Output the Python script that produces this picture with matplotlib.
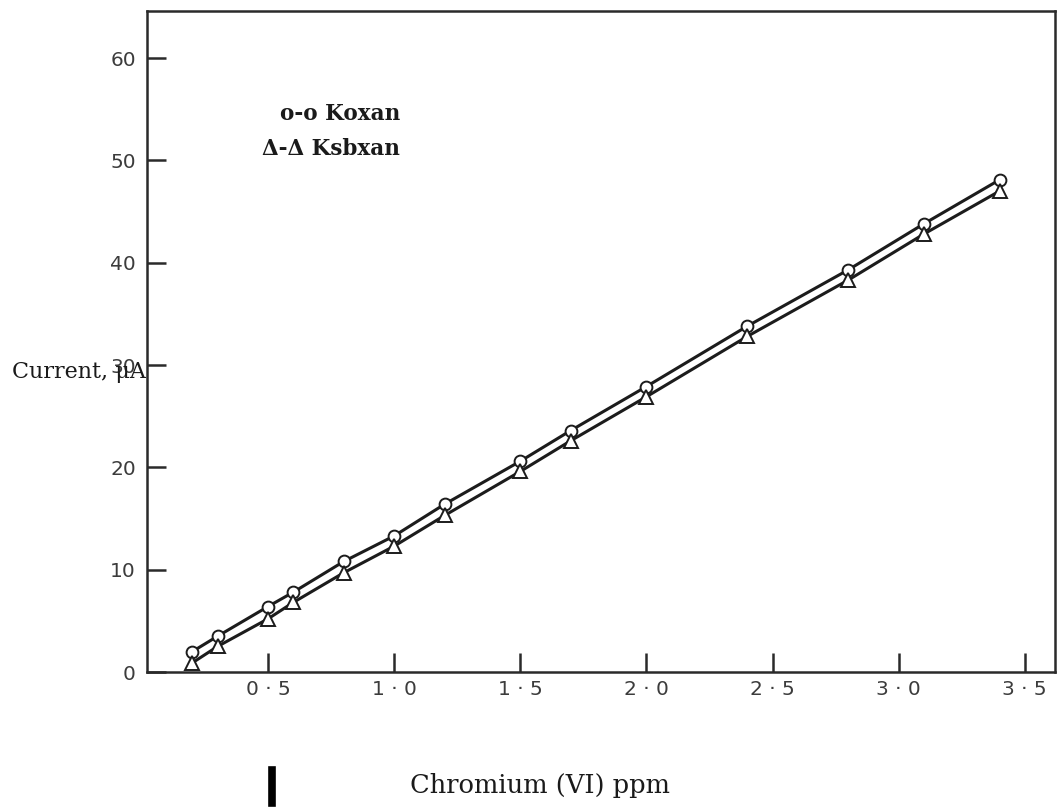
import matplotlib

matplotlib.use("Agg")
import matplotlib.pyplot as plt
from matplotlib.lines import Line2D

# Chromium (VI) concentration, ppm
conc = [0.2, 0.3, 0.5, 0.6, 0.8, 1.0, 1.2, 1.5, 1.7, 2.0, 2.4, 2.8, 3.1, 3.4]

# current readings, uA
koxan = [2.0, 3.5, 6.4, 7.8, 10.8, 13.3, 16.4, 20.6, 23.6, 27.9, 33.8, 39.3, 43.8, 48.1]
ksbxan = [0.9, 2.5, 5.2, 6.8, 9.7, 12.3, 15.3, 19.6, 22.6, 26.9, 32.8, 38.3, 42.8, 47.0]

x_ticks = [0.5, 1.0, 1.5, 2.0, 2.5, 3.0, 3.5]
x_tick_labels = ["0 · 5", "1 · 0", "1 · 5", "2 · 0", "2 · 5", "3 · 0", "3 · 5"]
y_ticks = [0, 10, 20, 30, 40, 50, 60]

W, H = 1059, 807
fig = plt.figure(figsize=(W / 100, H / 100), dpi=100)
ax = fig.add_axes([147 / W, 1 - 672 / H, (1055 - 147) / W, (672 - 11) / H])

ink = "#1c1c1c"
ax.plot(conc, koxan, color=ink, lw=2.2, marker="o", ms=8.5,
        mfc="white", mec=ink, mew=1.4, zorder=3)
ax.plot(conc, ksbxan, color=ink, lw=2.2, marker="^", ms=10,
        mfc="white", mec=ink, mew=1.4, zorder=3)

ax.set_xlim(0.02, 3.62)
ax.set_ylim(0, 64.6)
ax.set_xticks(x_ticks)
ax.set_xticklabels(x_tick_labels)
ax.set_yticks(y_ticks)

for side in ax.spines.values():
    side.set_linewidth(1.8)
    side.set_color("#2a2a2a")

ax.tick_params(direction="in", length=14, width=1.8, color="#2a2a2a",
               labelsize=14.5, labelcolor="#3c3c3c")
ax.tick_params(axis="x", pad=6)
ax.tick_params(axis="y", pad=8)

serif = ["DejaVu Serif"]
fig.text(400 / W, 1 - 120 / H, "o-o Koxan", ha="right", va="baseline",
         family=serif, fontsize=15.5, weight="bold", color="#1a1a1a")
fig.text(400 / W, 1 - 155 / H, "Δ-Δ Ksbxan", ha="right", va="baseline",
         family=serif, fontsize=15.5, weight="bold", color="#1a1a1a")
# the reference label runs over the "30" tick label
fig.text(12 / W, 1 - 372 / H, "Current, μA", ha="left", va="center",
         family=serif, fontsize=16, color="#1a1a1a")
fig.text(410 / W, 1 - 785 / H, "Chromium (VI) ppm", ha="left", va="center",
         family=serif, fontsize=18.5, color="#1a1a1a")

# stray bar left of the axis title
fig.add_artist(Line2D([272 / W, 272 / W], [1 - 770 / H, 1 - 803 / H],
                      color="black", lw=5.5, transform=fig.transFigure))

fig.savefig("out.png", dpi=100)
